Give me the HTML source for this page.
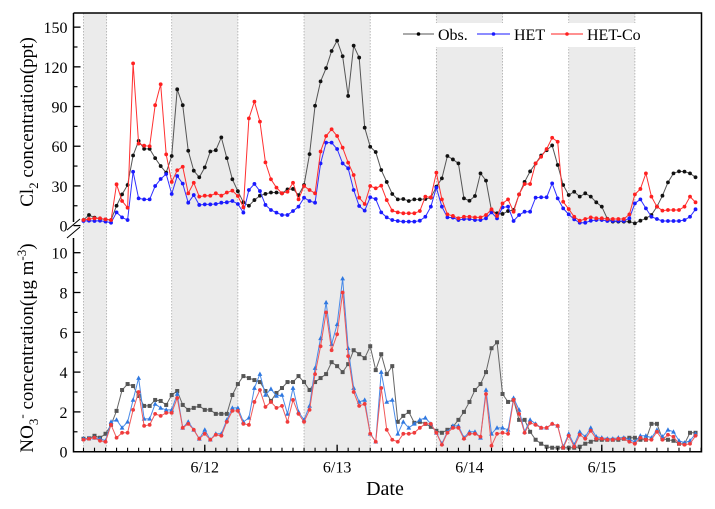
<!DOCTYPE html>
<html><head><meta charset="utf-8"><style>
html,body{margin:0;padding:0;background:#fff;}
svg text{font-family:"Liberation Serif",serif;fill:#000;}
</style></head><body>
<svg id="chart" width="715" height="504" viewBox="0 0 715 504" xmlns="http://www.w3.org/2000/svg">
<g id="shades"></g>
<rect x="396" y="23" width="246" height="24" fill="#fff"/>
<g id="marks"></g>
<g id="axes"></g>
<text transform="translate(33,122) rotate(-90)" text-anchor="middle" font-size="19">Cl<tspan font-size="13" dy="5">2</tspan><tspan dy="-5"> concentration(ppt)</tspan></text>
<text transform="translate(33,348) rotate(-90)" text-anchor="middle" font-size="19">NO<tspan font-size="13" dy="5">3</tspan><tspan font-size="13" dy="-12">-</tspan><tspan dy="7"> concentration(μg m</tspan><tspan font-size="13" dy="-7">-3</tspan><tspan dy="7">)</tspan></text>
<text x="385" y="495" text-anchor="middle" font-size="20">Date</text>
<g>
<g><line x1="403" y1="34" x2="434" y2="34" stroke="#555" stroke-width="1"/><circle cx="418.5" cy="34" r="1.8" fill="#000"/><text x="438" y="40" font-size="16">Obs.</text></g>
<g><line x1="477" y1="34" x2="510" y2="34" stroke="#1a1aff" stroke-width="1"/><circle cx="493.5" cy="34" r="1.8" fill="#1a1aff"/><text x="514" y="40" font-size="16">HET</text></g>
<g><line x1="551" y1="34" x2="583" y2="34" stroke="#ff2020" stroke-width="1"/><circle cx="567" cy="34" r="1.8" fill="#ff2020"/><text x="587" y="40" font-size="16">HET-Co</text></g>
</g>
</svg>
<script>
const hours=[];for(let h=2;h<=113;h++)hours.push(h);
const nightStart=[2,18,42,66,90];
const nightEnd=[6.2,30,54,78,102];
const dayTicks=[48,72,96,120];
const dayLabels=["6/12","6/13","6/14","6/15"];
const cl2Ticks=[0,30,60,90,120,150];
const no3Ticks=[0,2,4,6,8,10];
const cl2Obs=[4.2,8,6,5.2,4.7,4.2,15,23.6,30.7,53,64,58,58,51,45,40,52.6,103,91,56.6,41.5,36.5,44,56,57,66.7,51,35,26,17.6,15,19.3,22.6,24,25,25,24.4,27.4,27.7,23,30.7,54,90.6,109,119,132,139.8,128,98,136,127,74,59.6,55.6,42,33,
23.9,19.8,20.1,18.6,19.8,19.8,20.1,21.1,29.4,35.7,52.6,50,47,20.6,18.8,22.4,39.5,34,11.3,9.3,8.8,11,11.8,23.6,33,41,47,53,57,60.6,45.8,30.7,23.1,25.6,21.9,24.4,21.9,17.6,14.3,5.2,3,3,3,3,1.7,3.7,5.5,8,14.3,22.6,32.7,39.5,41,40.8,39.5,36.5];
const cl2Het=[3.5,3.7,3.5,3.7,3,2.2,10,6.2,4.2,40.7,20.6,19.8,19.8,29.9,35.2,39,23.9,37.5,31.7,17.3,23.1,15.6,16,16,16.3,17.3,17.6,18.6,16.3,9.8,26.9,31.5,26.1,15.6,11.8,9.8,8,8,11,14.3,21.1,18.6,17.3,47,62.7,62.7,57.9,47,43.3,26.9,14.8,11.3,21.4,20.1,10,6.2,
4.2,3.5,3,3,3,3.7,6.7,14.3,28.7,14.3,6.2,6,4.2,5,5,4.2,4.2,5.5,10,5.5,13.8,14.3,3.5,8,10.5,10.5,21.1,21.4,21.4,31.9,20.6,13,8.5,4.7,2.2,2.2,3.7,4.2,4.2,3.5,3.5,3.5,3.5,5.5,16.8,19.8,13,6.7,5,3.5,3.5,3.5,3.5,4.2,6.7,12.3];
const cl2HetCo=[4.2,5,5.5,5.5,4.7,4.2,31.2,18.6,13.5,122.6,62,60.4,60,91,106.8,53.8,33,41.8,44.5,24.4,32.4,21.9,22.6,22.6,24.4,22.6,25,26.4,22.4,13.8,81,93.7,78.6,47.8,35,28.7,24.4,25.6,32.4,19.8,29.9,26.9,24.4,56,67.7,72.8,67.7,58.9,47.6,38.2,21.1,16.3,29.9,28.2,30.2,19.3,
11.3,10,9.3,9.3,9.3,11,21.9,21.4,40,19.8,8.5,7.3,5.5,6.7,6.7,6.2,6.2,8,12.3,7.3,16.8,19.8,10.5,23.6,31.4,31.4,47,52,57.9,66.4,63.4,18,12.5,6.7,3.7,5,6.2,5.5,5.5,5,5,5,5,8.5,23.6,27.7,39.5,21.9,14.3,11.3,11.8,11.8,11.8,14.3,21.9,17.6];
const no3Obs=[0.65,0.67,0.8,0.7,0.9,1.35,2.05,3.1,3.4,3.3,2.8,2.3,2.3,2.6,2.55,2.35,2.85,3.05,2.35,2.1,2.2,2.3,2.1,2.1,1.9,1.9,1.9,2.85,3.4,3.8,3.7,3.6,3.5,3.05,2.55,2.95,3.2,3.5,3.5,3.8,3.5,3.1,3.5,3.7,3.9,4.5,4.3,4.0,4.4,5.1,4.9,4.7,5.3,4.1,4.9,3.9,
4.3,1.5,1.8,2.0,1.45,1.5,1.4,1.25,1.05,0.95,1.1,1.25,1.6,2.0,2.5,3.1,3.4,4.0,5.2,5.5,2.9,2.5,2.6,1.6,1.6,1.0,0.6,0.4,0.25,0.2,0.2,0.2,0.2,0.2,0.25,0.4,0.5,0.6,0.6,0.6,0.6,0.6,0.65,0.7,0.7,0.6,0.6,1.4,1.4,0.65,0.6,0.55,0.4,0.4,0.95,0.95];
const no3Het=[0.65,0.67,0.7,0.65,0.55,1.5,1.6,1.2,1.5,2.6,3.7,1.65,1.65,2.4,2.2,2.1,2.1,2.9,1.2,1.5,1.1,0.65,1.1,0.6,0.9,0.9,1.6,2.2,2.2,1.5,1.7,3.2,3.9,2.85,3.15,2.8,2.85,1.9,3.2,2.0,1.6,2.3,4.2,5.7,7.5,5.4,6.4,8.7,5.2,3.2,2.5,2.6,0.9,0.5,4.0,2.5,
2.6,0.9,1.5,1.2,1.4,1.6,1.7,1.4,0.95,0.4,1.0,1.3,1.3,0.7,1.0,1.0,0.7,3.1,0.9,1.2,1.2,1.1,2.7,2.1,1.0,1.6,1.4,1.2,1.2,1.4,1.3,0.25,0.9,0.35,1.0,0.75,1.2,0.75,0.7,0.65,0.65,0.7,0.7,0.6,0.5,0.8,0.8,0.7,1.1,0.75,1.1,1.0,0.55,0.45,0.55,0.9];
const no3HetCo=[0.6,0.65,0.7,0.55,0.5,1.35,0.7,0.95,0.95,2.1,3.0,1.3,1.35,1.9,1.8,1.95,1.95,2.7,1.2,1.4,1.1,0.65,0.9,0.6,0.85,0.8,1.5,2.05,2.05,1.4,1.35,2.5,3.1,2.25,2.5,2.2,2.3,1.5,2.6,1.9,1.5,2.1,3.9,5.3,7.0,5.1,5.9,8.0,4.8,3.0,2.3,2.4,0.9,0.5,3.2,1.1,
0.6,0.5,0.9,0.9,0.95,1.2,1.4,1.4,0.95,0.35,0.95,1.2,1.2,0.65,0.9,0.9,0.75,2.9,0.3,0.9,0.95,0.9,2.6,1.9,0.95,1.45,1.35,1.2,1.2,1.4,1.3,0.2,0.8,0.25,0.85,0.65,1.05,0.65,0.65,0.6,0.6,0.65,0.65,0.5,0.4,0.7,0.6,0.6,1.0,0.6,0.85,0.75,0.4,0.35,0.4,0.8];

const NS='http://www.w3.org/2000/svg';
const L=73.5,R=701.5,T=13,B=451.7;
function x(h){return 72.45+5.514*h;}
function yU(v){return 225.6-v*1.323;}
function yL(v){return B-v*19.9;}
function mk(tag,attrs,parent){const e=document.createElementNS(NS,tag);for(const k in attrs)e.setAttribute(k,attrs[k]);parent.appendChild(e);return e;}
const shades=document.getElementById('shades'),marks=document.getElementById('marks'),axes=document.getElementById('axes');

for(let i=0;i<nightStart.length;i++){
  const x0=x(nightStart[i]),x1=Math.min(x(nightEnd[i]),R);
  const r=mk('rect',{x:x0,y:T,width:x1-x0,height:B-T,fill:'#ebebeb'},shades);
  
  
  [x0,x1].forEach(xx=>{const l=mk('line',{x1:xx,x2:xx,y1:T,y2:B,stroke:'#aaa','stroke-width':0.8,'stroke-dasharray':'1.5,1.5'},shades);
    
    });
}

function series(vals,yf,color,lineColor,shape,name){
  const g=mk('g',{},marks);
  
  
  const pts=vals.map((v,i)=>x(hours[i]).toFixed(2)+','+yf(v).toFixed(2)).join(' ');
  mk('polyline',{points:pts,fill:'none',stroke:lineColor,'stroke-width':1},g);
  vals.forEach((v,i)=>{
    const cx=x(hours[i]),cy=yf(v);let m;
    if(shape==='c')m=mk('circle',{cx:cx,cy:cy,r:1.9,fill:color},g);
    else if(shape==='s')m=mk('rect',{x:cx-2,y:cy-2,width:4,height:4,fill:color},g);
    else m=mk('polygon',{points:`${cx},${cy-2.6} ${cx-2.4},${cy+1.8} ${cx+2.4},${cy+1.8}`,fill:color},g);
    
    
  });
}
series(cl2Obs,yU,'#111','#555','c','cl2-obs-series');
series(cl2Het,yU,'#1a1aff','#3030ff','c','cl2-het-series');
series(cl2HetCo,yU,'#ff2020','#ff3030','c','cl2-het-co-series');
series(no3Obs,yL,'#555','#666','s','no3-obs-series');
series(no3Het,yL,'#2f78e0','#4a8be8','t','no3-het-series');
series(no3HetCo,yL,'#f03c3c','#f05a5a','c','no3-het-co-series');

// frame
const fr=mk('path',{d:`M${L},${T} H${R} V${B} H${L} V238 M${L},222 V${T}`,fill:'none',stroke:'#000','stroke-width':1.5},axes);


const br=mk('path',{d:`M67,230 L80,219 M67,238 L80,227`,stroke:'#000','stroke-width':1,fill:'none'},axes);


cl2Ticks.forEach((v,i)=>{
  mk('line',{x1:L,x2:L+7,y1:yU(v),y2:yU(v),stroke:'#000','stroke-width':1.3},axes);
  if(i<cl2Ticks.length-1){const ym=yU(v+15);mk('line',{x1:L,x2:L+4,y1:ym,y2:ym,stroke:'#000','stroke-width':1.2},axes);}
  const t=mk('text',{x:L-6,y:yU(v)+6,'text-anchor':'end','font-size':16},axes);t.textContent=v;
  
  
});
no3Ticks.forEach((v,i)=>{
  mk('line',{x1:L,x2:L+7,y1:yL(v),y2:yL(v),stroke:'#000','stroke-width':1.3},axes);
  if(i<no3Ticks.length-1){const ym=yL(v+1);mk('line',{x1:L,x2:L+4,y1:ym,y2:ym,stroke:'#000','stroke-width':1.2},axes);}
  const t=mk('text',{x:L-6,y:yL(v)+6,'text-anchor':'end','font-size':16},axes);t.textContent=v;
  
  
});
for(let h=2;h<=114;h+=2){const xx=x(h);if(xx>R)break;mk('line',{x1:xx,x2:xx,y1:B,y2:B-4,stroke:'#000','stroke-width':1.1},axes);}
dayTicks.forEach((h,i)=>{
  const xx=x(h-24);
  mk('line',{x1:xx,x2:xx,y1:B,y2:B-7,stroke:'#000','stroke-width':1.3},axes);
  const t=mk('text',{x:xx,y:B+21,'text-anchor':'middle','font-size':16},axes);t.textContent=dayLabels[i];
  
  
});
</script>
</body></html>
